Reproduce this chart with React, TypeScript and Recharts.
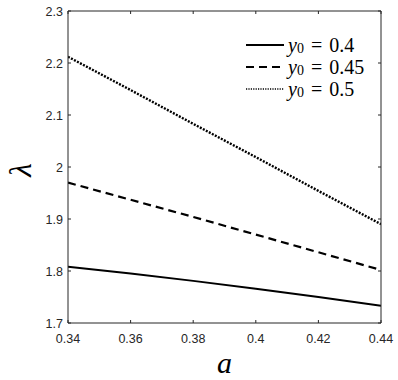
import { LineChart, Line, XAxis, YAxis, Legend } from "recharts";

// a values and lambda for the three initial conditions
const aValues = [0.34, 0.36, 0.38, 0.4, 0.42, 0.44];
const lambdaY04 = [1.808, 1.795, 1.781, 1.766, 1.75, 1.733];
const lambdaY045 = [1.97, 1.937, 1.904, 1.87, 1.836, 1.802];
const lambdaY05 = [2.212, 2.148, 2.083, 2.019, 1.954, 1.89];

const xTicks = [0.34, 0.36, 0.38, 0.4, 0.42, 0.44];
const yTicks = [1.7, 1.8, 1.9, 2, 2.1, 2.2, 2.3];

const seriesNames = ["0.4", "0.45", "0.5"];

const data = aValues.map((a, i) => ({
  a,
  s1: lambdaY04[i],
  s2: lambdaY045[i],
  s3: lambdaY05[i],
}));

const AXIS = "#262626";
const TICK_LEN = 3;
const FONT = "'Liberation Sans', Arial, sans-serif";
const SERIF = "'Liberation Serif', 'DejaVu Serif', serif";

const fmt = (v: number) => String(Number(v.toFixed(2)));

const styles = [
  { key: "s1", dash: undefined, width: 2 },
  { key: "s2", dash: "8 5", width: 2.2 },
  { key: "s3", dash: "2 1.4", width: 2.4 },
];

function BottomTick({ x, y, payload }: any) {
  return (
    <g>
      <line x1={x} y1={y} x2={x} y2={y - TICK_LEN} stroke={AXIS} />
      <text x={x} y={y + 20} textAnchor="middle" fontSize={12.5} fill={AXIS} fontFamily={FONT}>
        {fmt(payload.value)}
      </text>
    </g>
  );
}

function TopTick({ x, y }: any) {
  return <line x1={x} y1={y} x2={x} y2={y + TICK_LEN} stroke={AXIS} />;
}

function LeftTick({ x, y, payload }: any) {
  return (
    <g>
      <line x1={x} y1={y} x2={x + TICK_LEN} y2={y} stroke={AXIS} />
      <text x={x - 5} y={y + 4.5} textAnchor="end" fontSize={12.5} fill={AXIS} fontFamily={FONT}>
        {fmt(payload.value)}
      </text>
    </g>
  );
}

function RightTick({ x, y }: any) {
  return <line x1={x} y1={y} x2={x - TICK_LEN} y2={y} stroke={AXIS} />;
}

function LegendBox() {
  return (
    <div style={{ fontFamily: SERIF, fontSize: 20, color: "#000", lineHeight: "22px" }}>
      {styles.map((s, i) => (
        <div key={s.key} style={{ display: "flex", alignItems: "center", height: 22 }}>
          <svg width={40} height={10} style={{ marginRight: 3 }}>
            <line
              x1={1}
              y1={5}
              x2={39}
              y2={5}
              stroke="#000"
              strokeWidth={i === 2 ? 1.4 : 2}
              strokeDasharray={i === 2 ? "1.2 1.2" : s.dash}
            />
          </svg>
          <span style={{ fontStyle: "italic" }}>y</span>
          <span style={{ fontSize: 14, position: "relative", top: 4 }}>0</span>
          <span style={{ margin: "0 7px" }}>=</span>
          <span>{seriesNames[i]}</span>
        </div>
      ))}
    </div>
  );
}

export default function App() {
  return (
    <div style={{ position: "relative", width: 398, height: 380, background: "#fff" }}>
      <style>{`body{margin:0}`}</style>
      <LineChart
        width={398}
        height={380}
        data={data}
        margin={{ top: 10, right: 16, bottom: 0, left: 0 }}
      >
        <XAxis
          dataKey="a"
          type="number"
          domain={[0.34, 0.44]}
          ticks={xTicks}
          allowDataOverflow
          height={57}
          tickSize={0}
          tickMargin={0}
          tickLine={false}
          axisLine={{ stroke: AXIS }}
          tick={BottomTick}
          label={{
            content: ({ viewBox }: any) => (
              <text
                x={viewBox.x + viewBox.width / 2}
                y={viewBox.y + 50}
                textAnchor="middle"
                fontSize={30}
                fontStyle="italic"
                fontFamily={SERIF}
                fill="#000"
              >
                a
              </text>
            ),
          }}
        />
        <XAxis
          xAxisId="top"
          orientation="top"
          dataKey="a"
          type="number"
          domain={[0.34, 0.44]}
          ticks={xTicks}
          allowDataOverflow
          height={1}
          tickSize={0}
          tickMargin={0}
          tickLine={false}
          axisLine={{ stroke: AXIS }}
          tick={TopTick}
        />
        <YAxis
          type="number"
          domain={[1.7, 2.3]}
          ticks={yTicks}
          allowDataOverflow
          width={68}
          tickSize={0}
          tickMargin={0}
          tickLine={false}
          axisLine={{ stroke: AXIS }}
          tick={LeftTick}
        />
        <YAxis
          yAxisId="right"
          orientation="right"
          type="number"
          domain={[1.7, 2.3]}
          ticks={yTicks}
          allowDataOverflow
          width={1}
          tickSize={0}
          tickMargin={0}
          tickLine={false}
          axisLine={{ stroke: AXIS }}
          tick={RightTick}
        />
        <Legend
          layout="vertical"
          align="center"
          verticalAlign="middle"
          content={() => <LegendBox />}
          wrapperStyle={{ position: "absolute", left: 245, top: 34, width: "auto", height: "auto" }}
        />
        {styles.map((s) => (
          <Line
            key={s.key}
            dataKey={s.key}
            stroke="#000"
            strokeWidth={s.width}
            strokeDasharray={s.dash}
            dot={false}
            activeDot={false}
            type="linear"
            isAnimationActive={false}
          />
        ))}
      </LineChart>
      <div
        style={{
          position: "absolute",
          left: 20,
          top: 170,
          transform: "translate(-50%, -50%) rotate(-90deg)",
          fontFamily: SERIF,
          fontStyle: "italic",
          fontSize: 31,
          lineHeight: "31px",
          color: "#000",
        }}
      >
        λ
      </div>
    </div>
  );
}
